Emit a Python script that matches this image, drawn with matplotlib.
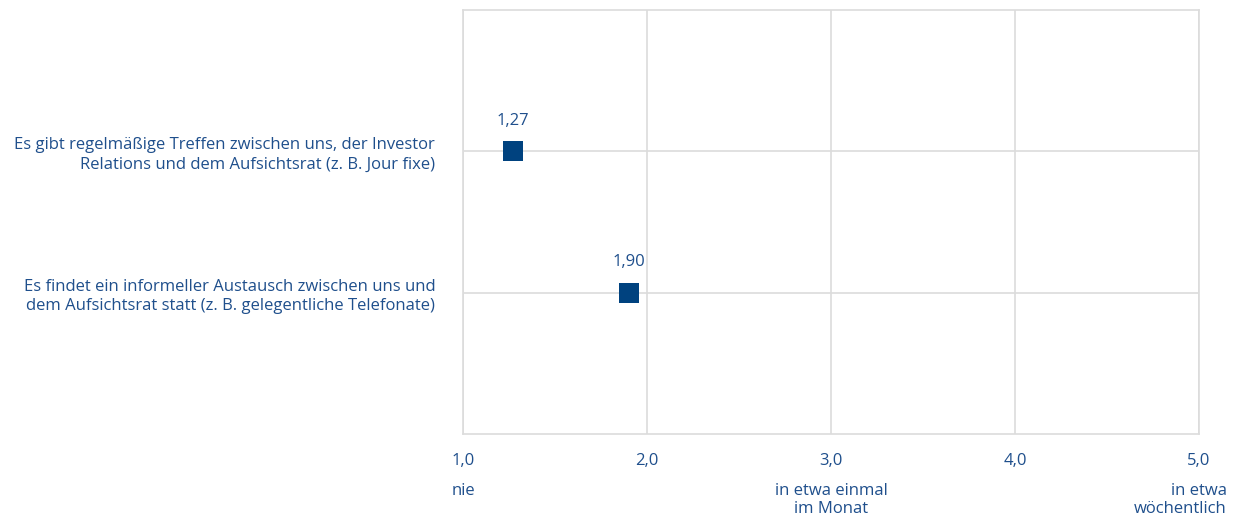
import matplotlib
matplotlib.use("Agg")
import matplotlib.pyplot as plt

plt.rcParams['font.family'] = ['Open Sans', 'DejaVu Sans']

categories = ["Es gibt regelmäßige Treffen zwischen uns, der Investor\nRelations und dem Aufsichtsrat (z. B. Jour fixe)",
              "Es findet ein informeller Austausch zwischen uns und\ndem Aufsichtsrat statt (z. B. gelegentliche Telefonate)"]
values = [1.27, 1.90]
value_labels = ["1,27", "1,90"]
xticks = [1.0, 2.0, 3.0, 4.0, 5.0]
xtick_labels = ["1,0", "2,0", "3,0", "4,0", "5,0"]
scale_labels = {1.0: "nie", 3.0: "in etwa einmal\nim Monat", 5.0: "in etwa\nwöchentlich"}

text_col = '#1f4f8c'
mark_col = '#00427f'
grid_col = '#dcdcdc'

fig = plt.figure(figsize=(12.34, 5.21), dpi=100)
ax = fig.add_axes([463/1234, 1-434/521, (1199-463)/1234, (434-10)/521])

ypos = [2, 1]
ax.scatter(values, ypos, marker='s', s=208, color=mark_col, zorder=3, linewidths=0)
for v, y, lab in zip(values, ypos, value_labels):
    ax.annotate(lab, (v, y), xytext=(0, 16), textcoords='offset points',
                ha='center', va='bottom', color=text_col, fontsize=12)

ax.set_xlim(1, 5)
ax.set_ylim(0, 3)
ax.set_xticks(xticks)
ax.set_xticklabels(xtick_labels)
ax.set_yticks(ypos)
ax.set_yticklabels(categories)
ax.tick_params(length=0, colors=text_col, labelsize=12)
ax.tick_params(axis='x', pad=14)
ax.tick_params(axis='y', pad=20)
for t in ax.get_yticklabels():
    t.set_horizontalalignment('right')
    t.set_multialignment('right')
    t.set_linespacing(1.3)
ax.grid(True, color=grid_col, linewidth=1.2)
ax.set_axisbelow(True)
for s in ax.spines.values():
    s.set_color(grid_col)
    s.set_linewidth(1.2)

for x, lab in scale_labels.items():
    if x == 5.0:
        ax.annotate(lab, (x, 0), xycoords='data', xytext=(20, -35), textcoords='offset points',
                    ha='right', va='top', multialignment='right', color=text_col,
                    fontsize=12, linespacing=1.2, annotation_clip=False)
    else:
        ax.annotate(lab, (x, 0), xycoords='data', xytext=(0, -35), textcoords='offset points',
                    ha='center', va='top', multialignment='center', color=text_col,
                    fontsize=12, linespacing=1.2, annotation_clip=False)

fig.savefig('out.png', dpi=100)
